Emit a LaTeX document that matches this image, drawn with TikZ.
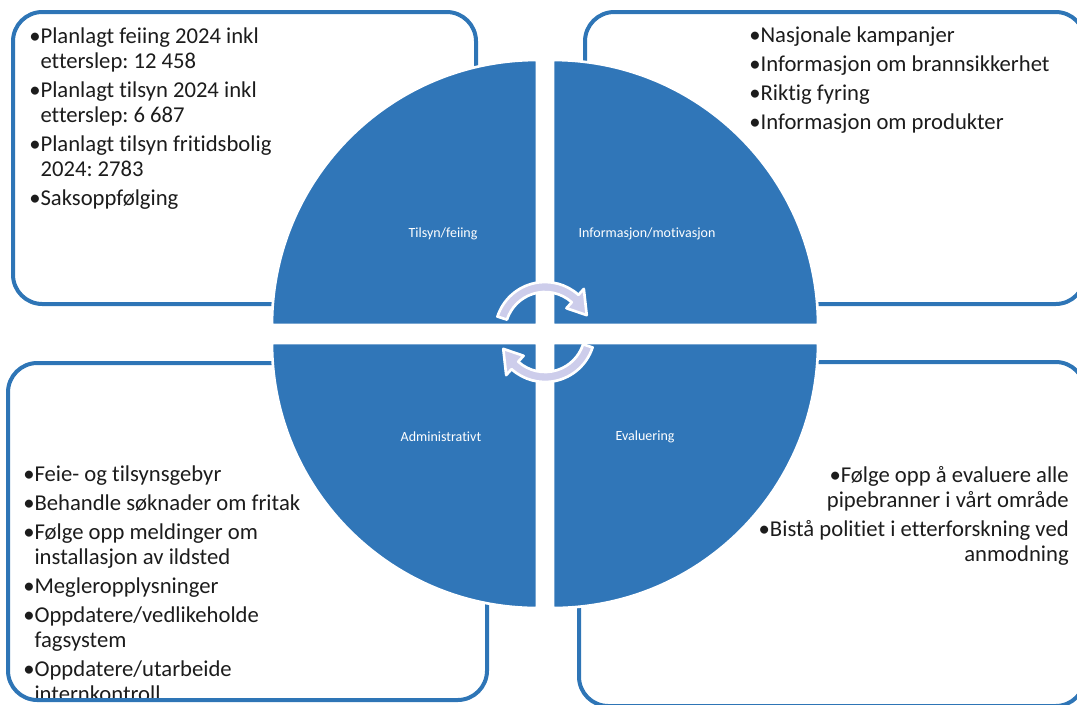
\documentclass[tikz,border=0pt]{standalone}
\usepackage{fontspec}
\setmainfont{Carlito}[Ligatures=CommonOff]
\frenchspacing
\definecolor{qblue}{RGB}{48,118,184}
\definecolor{bblue}{RGB}{46,117,182}
\definecolor{arrfill}{RGB}{205,205,235}
\definecolor{txt}{RGB}{28,28,28}
\begin{document}
\begin{tikzpicture}[x=0.75pt,y=-0.75pt,
  boxframe/.style={draw=bblue, line width=3pt, rounded corners=22pt, inner sep=0pt},
  quad/.style={fill=qblue, draw=white, line width=2pt},
  qlabel/.style={text=white, font=\fontsize{10.5}{12}\selectfont, inner sep=0pt},
  body/.style={text=txt, font=\fontsize{17}{18.75}\selectfont, inner sep=0pt},
  cyc/.style={fill=arrfill, draw=white, line width=2pt, line join=round}]
\useasboundingbox (0,0) rectangle (1077,704);

% texts
\node[body, anchor=north west, align=left] (tltext) at (29,27)
 {•Planlagt feiing 2024 inkl\\ \phantom{•}etterslep: 12 458\\[3pt]
  •Planlagt tilsyn 2024 inkl\\ \phantom{•}etterslep: 6 687\\[3pt]
  •Planlagt tilsyn fritidsbolig\\ \phantom{•}2024: 2783\\[3pt]
  •Saksoppfølging};
\node[body, anchor=north west, align=left] (trtext) at (749,26)
 {•Nasjonale kampanjer\\[3pt]
  •Informasjon om brannsikkerhet\\[3pt]
  •Riktig fyring\\[3pt]
  •Informasjon om produkter};
\node[body, anchor=north west, align=left] (bltext) at (23,465)
 {•Feie- og tilsynsgebyr\\[3pt]
  •Behandle søknader om fritak\\[3pt]
  •Følge opp meldinger om\\ \phantom{•}installasjon av ildsted\\[3pt]
  •Megleropplysninger\\[3pt]
  •Oppdatere/vedlikeholde\\ \phantom{•}fagsystem\\[3pt]
  •Oppdatere/utarbeide\\ \phantom{•}internkontroll};
\node[body, anchor=north east, align=right] (brtext) at (1069,466)
 {•Følge opp å evaluere alle\\ pipebranner i vårt område\\[3pt]
  •Bistå politiet i etterforskning ved\\ anmodning};

% boxes
\node[boxframe, minimum width=347.25pt, minimum height=219pt] (tlbox) at (244.5,158) {};
\node[boxframe, minimum width=375pt, minimum height=219pt] (trbox) at (835,158) {};
\node[boxframe, minimum width=359.25pt, minimum height=252.75pt] (blbox) at (247.5,531.5) {};
\node[boxframe, minimum width=379.5pt, minimum height=258pt] (brbox) at (832,534) {};

% quadrants
\path[quad] (537,325) -- (272,325) arc[start angle=180, end angle=270, radius=265] -- cycle;
\path[quad] (553,325) -- (553,60) arc[start angle=270, end angle=360, radius=265] -- cycle;
\path[quad] (553,343) -- (818,343) arc[start angle=0, end angle=90, radius=265] -- cycle;
\path[quad] (537,343) -- (537,608) arc[start angle=90, end angle=180, radius=265] -- cycle;

\node[qlabel] (q1) at (443,234) {Tilsyn/feiing};
\node[qlabel] (q2) at (647,234) {Informasjon/motivasjon};
\node[qlabel] (q3) at (441,437) {Administrativt};
\node[qlabel] (q4) at (645,437) {Evaluering};

% cycle arrows
\begin{scope}[shift={(545,332)}]
\path[cyc] (198:50) arc[start angle=198, end angle=312, radius=50]
  -- (312:58) -- (338:45) -- (312:32) -- (312:40)
  arc[start angle=312, end angle=198, radius=40] -- cycle;
\path[cyc] (18:50) arc[start angle=18, end angle=132, radius=50]
  -- (132:58) -- (158:45) -- (132:32) -- (132:40)
  arc[start angle=132, end angle=18, radius=40] -- cycle;
\end{scope}
\end{tikzpicture}
\end{document}
